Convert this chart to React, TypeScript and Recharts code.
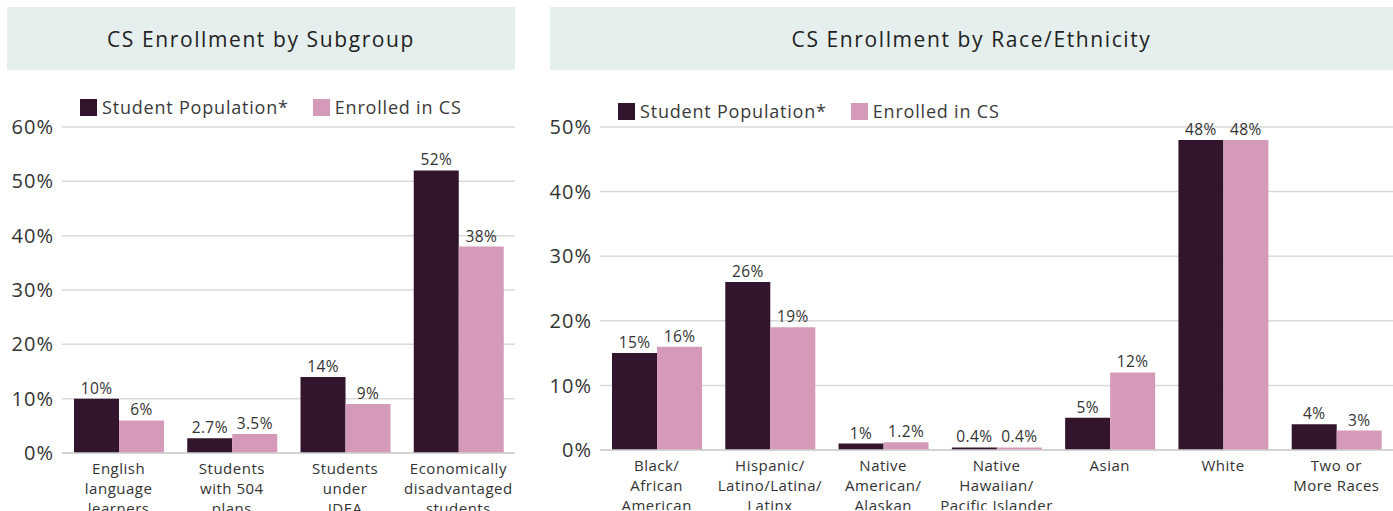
import React from "react";
import { Bar, BarChart, CartesianGrid, LabelList, Legend, XAxis, YAxis } from "recharts";

const subgroupCategories = [
  "English\nlanguage\nlearners",
  "Students\nwith 504\nplans",
  "Students\nunder\nIDEA",
  "Economically\ndisadvantaged\nstudents",
];
const subgroupPopulation = [10, 2.7, 14, 52];
const subgroupEnrolled = [6, 3.5, 9, 38];
const subgroupTicks = [0, 10, 20, 30, 40, 50, 60];

const raceCategories = [
  "Black/\nAfrican\nAmerican",
  "Hispanic/\nLatino/Latina/\nLatinx",
  "Native\nAmerican/\nAlaskan",
  "Native\nHawaiian/\nPacific Islander",
  "Asian",
  "White",
  "Two or\nMore Races",
];
const racePopulation = [15, 26, 1, 0.4, 5, 48, 4];
const raceEnrolled = [16, 19, 1.2, 0.4, 12, 48, 3];
const raceTicks = [0, 10, 20, 30, 40, 50];

const DARK = "#33142d";
const PINK = "#d59aba";
const TEXT = "#333333";
const FONT = "'Open Sans', sans-serif";

function CategoryTick({ x, y, payload }: any) {
  const lines = String(payload.value).split("\n");
  return (
    <text
      x={x}
      y={y + 13}
      textAnchor="middle"
      fill={TEXT}
      fontSize={15}
      letterSpacing={0.5}
      fontFamily={FONT}
    >
      {lines.map((l, i) => (
        <tspan key={i} x={x} dy={i === 0 ? 0 : 20}>
          {l}
        </tspan>
      ))}
    </text>
  );
}

function LegendBox() {
  const items = [
    { label: "Student Population*", color: DARK },
    { label: "Enrolled in CS", color: PINK },
  ];
  return (
    <div
      style={{
        display: "flex",
        alignItems: "center",
        fontFamily: FONT,
        fontSize: 18,
        letterSpacing: 0.8,
        color: "#3a3a3a",
        whiteSpace: "nowrap",
      }}
    >
      {items.map((it) => (
        <div key={it.label} style={{ display: "flex", alignItems: "center", marginRight: 24 }}>
          <span style={{ width: 17, height: 17, background: it.color, marginRight: 5, display: "inline-block" }} />
          <span>{it.label}</span>
        </div>
      ))}
    </div>
  );
}

function Header({ title, left, width }: { title: string; left: number; width: number }) {
  return (
    <div
      style={{
        position: "absolute",
        left,
        top: 7,
        width,
        height: 63,
        background: "#e5efee",
        display: "flex",
        alignItems: "center",
        justifyContent: "center",
        fontFamily: FONT,
        fontSize: 21,
        letterSpacing: 1.6,
        color: "#222",
      }}
    >
      {title}
    </div>
  );
}

function EnrollmentChart({
  categories,
  population,
  enrolled,
  ticks,
  width,
  height,
  yWidth,
  legendLeft,
  legendTop,
}: {
  categories: string[];
  population: number[];
  enrolled: number[];
  ticks: number[];
  width: number;
  height: number;
  yWidth: number;
  legendLeft: number;
  legendTop: number;
}) {
  const data = categories.map((c, i) => ({ name: c, pop: population[i], cs: enrolled[i] }));
  const labelStyle = { fill: TEXT, fontSize: 15.5, fontFamily: FONT, letterSpacing: 0.4 };
  return (
    <BarChart
      width={width}
      height={height}
      data={data}
      margin={{ top: 57, right: 0, bottom: 0, left: 0 }}
      barGap={0}
      barSize={45}
    >
      <CartesianGrid vertical={false} stroke="#d9d9d9" strokeWidth={1.5} />
      <XAxis
        dataKey="name"
        interval={0}
        tickLine={false}
        axisLine={{ stroke: "#cfcfcf", strokeWidth: 1.5 }}
        tick={<CategoryTick />}
        height={60}
      />
      <YAxis
        domain={[0, ticks[ticks.length - 1]]}
        ticks={ticks}
        width={yWidth}
        tickLine={false}
        axisLine={false}
        tickFormatter={(v) => `${v}%`}
        tick={{ fill: TEXT, fontSize: 20, fontFamily: FONT, letterSpacing: 1 }}
      />
      <Legend
        verticalAlign="middle"
        align="center"
        wrapperStyle={{ top: legendTop, left: legendLeft, width: "auto" }}
        content={() => <LegendBox />}
      />
      <Bar dataKey="pop" fill={DARK} isAnimationActive={false}>
        <LabelList dataKey="pop" position="top" offset={5} formatter={(v: any) => `${v}%`} style={labelStyle} />
      </Bar>
      <Bar dataKey="cs" fill={PINK} isAnimationActive={false}>
        <LabelList dataKey="cs" position="top" offset={5} formatter={(v: any) => `${v}%`} style={labelStyle} />
      </Bar>
    </BarChart>
  );
}

export default function App() {
  return (
    <div
      style={{
        position: "absolute",
        left: 0,
        top: 0,
        width: 1393,
        height: 511,
        overflow: "hidden",
        background: "#fff",
      }}
    >
      <Header title="CS Enrollment by Subgroup" left={7} width={508} />
      <Header title="CS Enrollment by Race/Ethnicity" left={550} width={843} />
      <div style={{ position: "absolute", left: 0, top: 70 }}>
        <EnrollmentChart
          categories={subgroupCategories}
          population={subgroupPopulation}
          enrolled={subgroupEnrolled}
          ticks={subgroupTicks}
          width={515}
          height={443}
          yWidth={62}
          legendLeft={80}
          legendTop={25}
        />
      </div>
      <div style={{ position: "absolute", left: 530, top: 70 }}>
        <EnrollmentChart
          categories={raceCategories}
          population={racePopulation}
          enrolled={raceEnrolled}
          ticks={raceTicks}
          width={863}
          height={440}
          yWidth={70}
          legendLeft={88}
          legendTop={29}
        />
      </div>
    </div>
  );
}
